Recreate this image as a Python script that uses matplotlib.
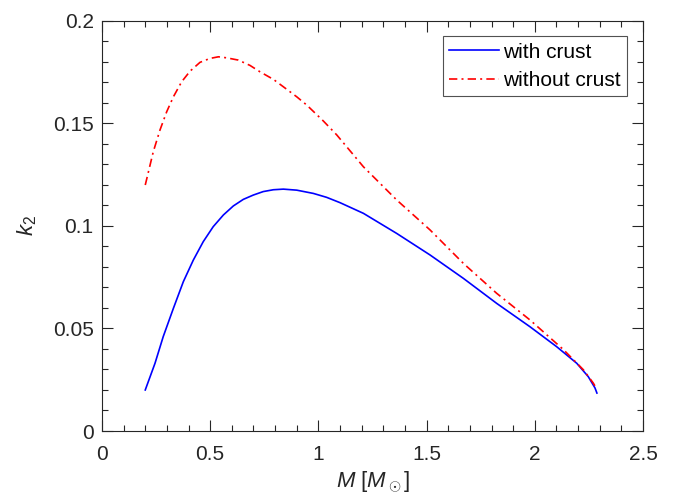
import numpy as np
import matplotlib
matplotlib.use("Agg")
import matplotlib.pyplot as plt
from matplotlib.ticker import MultipleLocator, FuncFormatter

plt.rcParams['font.family'] = ['Liberation Sans', 'DejaVu Sans']
plt.rcParams['mathtext.fontset'] = 'custom'
plt.rcParams['mathtext.it'] = 'Liberation Sans:italic'
plt.rcParams['mathtext.rm'] = 'Liberation Sans'

# values
m_crust = [0.20, 0.245, 0.283, 0.330, 0.376, 0.422, 0.468, 0.514, 0.561, 0.607, 0.653,
           0.699, 0.745, 0.792, 0.838, 0.900, 0.977, 1.038, 1.10,
           1.208, 1.362, 1.516, 1.670, 1.824, 1.978, 2.101, 2.194, 2.247, 2.278, 2.287]
k2_crust = [0.020, 0.0330, 0.0460, 0.0598, 0.0728, 0.0833, 0.0923, 0.0996, 0.1053, 0.1097, 0.1129,
            0.1150, 0.1167, 0.1176, 0.1179, 0.1174, 0.1158, 0.1139, 0.1113,
            0.1061, 0.0963, 0.0858, 0.0744, 0.0622, 0.0508, 0.0411, 0.0330, 0.0265, 0.0210, 0.0185]

m_nocrust = [0.20, 0.237, 0.268, 0.299, 0.330, 0.368, 0.407, 0.453, 0.499, 0.538, 0.576,
             0.630, 0.684, 0.730, 0.792, 0.838, 0.900, 0.946, 1.023,
             1.085, 1.208, 1.362, 1.516, 1.670, 1.824, 1.978, 2.132, 2.224, 2.270, 2.285]
k2_nocrust = [0.1199, 0.1361, 0.1467, 0.1556, 0.1629, 0.1702, 0.1754, 0.1797, 0.1816, 0.1824, 0.1819,
              0.1808, 0.1782, 0.1751, 0.1714, 0.1678, 0.1629, 0.1589, 0.1511,
              0.1443, 0.1288, 0.1126, 0.0980, 0.0817, 0.0671, 0.0541, 0.0397, 0.0299, 0.0234, 0.0207]

fig = plt.figure(figsize=(6.78, 5.01), dpi=100)
ax = fig.add_axes([0.1504, 0.1397, 0.798, 0.819])

ax.plot(m_crust, k2_crust, color='#0000ff', lw=1.2, label='with crust')
ax.plot(m_nocrust, k2_nocrust, color='#ff0000', lw=1.2, dashes=(5, 2.5, 1.2, 2.5),
        label='without crust')

ax.set_xlim(0, 2.5)
ax.set_ylim(0, 0.2)
ax.xaxis.set_major_locator(MultipleLocator(0.5))
ax.xaxis.set_minor_locator(MultipleLocator(0.1))
ax.yaxis.set_major_locator(MultipleLocator(0.05))
ax.yaxis.set_minor_locator(MultipleLocator(0.01))
fmt = FuncFormatter(lambda v, p: f'{v:g}')
ax.xaxis.set_major_formatter(fmt)
ax.yaxis.set_major_formatter(fmt)
ax.tick_params(which='both', direction='in', top=True, right=True,
               labelsize=15, colors='#262626', width=0.8)
ax.tick_params(which='major', length=8)
ax.tick_params(which='minor', length=4.3)
ax.tick_params(axis='x', pad=10)
ax.tick_params(axis='y', pad=6)
for s in ax.spines.values():
    s.set_color('#262626')
    s.set_linewidth(0.8)

ax.set_xlabel(r'$M$ [$M_\odot$]', fontsize=16, color='#262626', labelpad=4)
ax.set_ylabel(r'$k_2$', fontsize=16, color='#262626', labelpad=10)

leg = ax.legend(loc='upper right', fontsize=15, frameon=True, fancybox=False,
                edgecolor='#262626', handlelength=2.4, handletextpad=0.2,
                borderpad=0.3, labelspacing=0.45, borderaxespad=0.75)
leg.get_frame().set_linewidth(0.8)

fig.savefig('out.png', dpi=100)
